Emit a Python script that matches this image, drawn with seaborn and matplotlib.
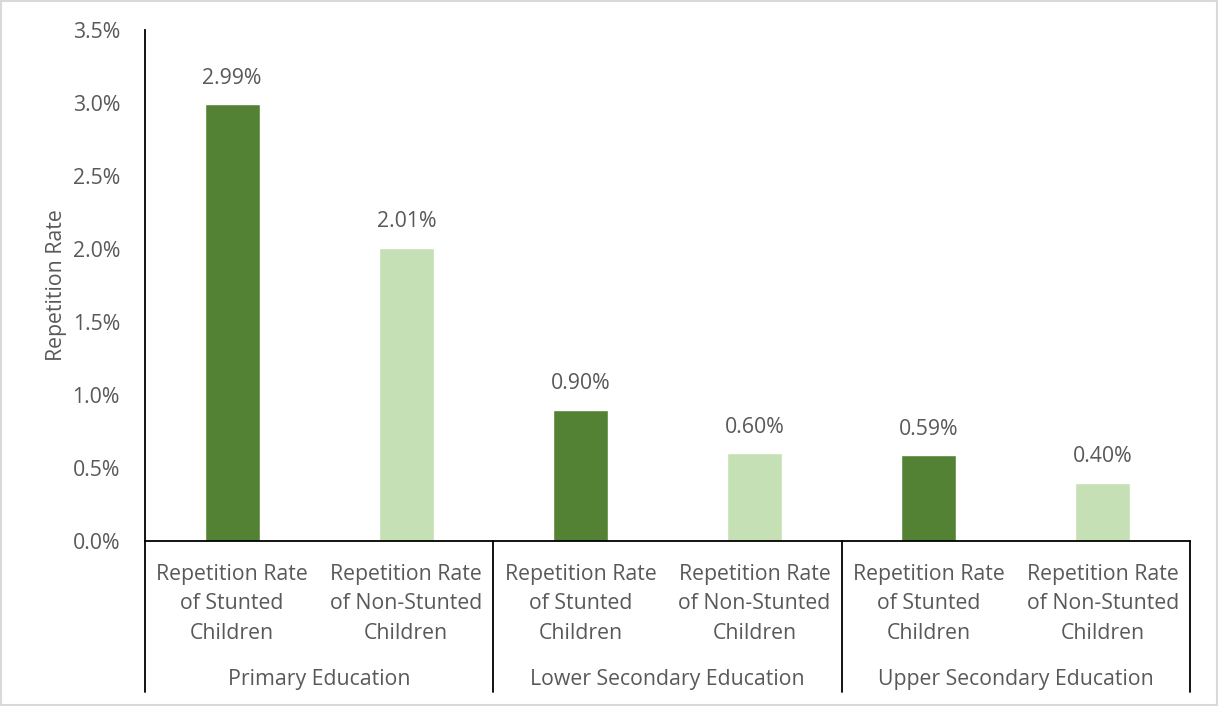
import matplotlib
matplotlib.use("Agg")
import matplotlib.pyplot as plt
import seaborn as sns
import pandas as pd
from matplotlib.ticker import FuncFormatter

groups = ["Primary Education", "Lower Secondary Education", "Upper Secondary Education"]
series = ["Repetition Rate\nof Stunted\nChildren", "Repetition Rate\nof Non-Stunted\nChildren"]
stunted = [2.99, 0.90, 0.59]
non_stunted = [2.01, 0.60, 0.40]
y_label = "Repetition Rate"
colors = ["#548235", "#C5E0B4"]

rows = []
for g, s, n in zip(groups, stunted, non_stunted):
    rows.append({"slot": f"{g}|0", "group": g, "series": series[0], "value": s})
    rows.append({"slot": f"{g}|1", "group": g, "series": series[1], "value": n})
df = pd.DataFrame(rows)

sns.set_theme(style="white")
plt.rcParams["font.family"] = ["Open Sans", "DejaVu Sans"]
text_color = "#595959"
fs = 15.3

fig = plt.figure(figsize=(12.19, 7.06), dpi=100)
ax = fig.add_axes([145/1219, 1-541/706, (1190-145)/1219, (541-30)/706])

sns.barplot(data=df, x="slot", y="value", hue="series", palette=colors,
            dodge=False, width=0.316, ax=ax, legend=False, saturation=1)

ax.set_ylim(0, 3.5)
ax.set_xlim(-0.5, len(df) - 0.5)
ax.set_yticks([i * 0.5 for i in range(8)])
ax.yaxis.set_major_formatter(FuncFormatter(lambda v, p: f"{v:.1f}%"))
ax.tick_params(axis="y", length=0, pad=18, labelsize=fs, labelcolor=text_color)
ax.set_xticks(range(len(df)))
ax.set_xticklabels([r for r in df["series"]], fontsize=fs, color=text_color, linespacing=1.53)
ax.tick_params(axis="x", length=0, pad=16.5)
ax.set_xlabel("")
ax.set_ylabel(y_label, fontsize=fs, color=text_color, labelpad=4)

for sp in ["top", "right"]:
    ax.spines[sp].set_visible(False)
for sp in ["left", "bottom"]:
    ax.spines[sp].set_color("#000000")
    ax.spines[sp].set_linewidth(1.3)

for i, v in enumerate(df["value"]):
    ax.text(i, v + 0.105, f"{v:.2f}%", ha="center", va="bottom", fontsize=fs, color=text_color)

# group separators and labels
trans = ax.get_xaxis_transform()
bottom_frac = -(692 - 541) / (541 - 30)
for k in range(len(groups) + 1):
    xpos = -0.5 + 2 * k
    ax.plot([xpos, xpos], [0, bottom_frac], transform=trans, color="#000000", lw=1.3, clip_on=False)
for k, g in enumerate(groups):
    ax.text(0.5 + 2 * k, -(680 - 541) / (541 - 30), g, transform=trans, ha="center", va="center",
            fontsize=fs, color=text_color)

fig.patches.append(plt.Rectangle((0.001, 0.001), 0.997, 0.997, transform=fig.transFigure,
                                 fill=False, edgecolor="#D9D9D9", lw=1.5))
fig.savefig("out.png", dpi=100)
